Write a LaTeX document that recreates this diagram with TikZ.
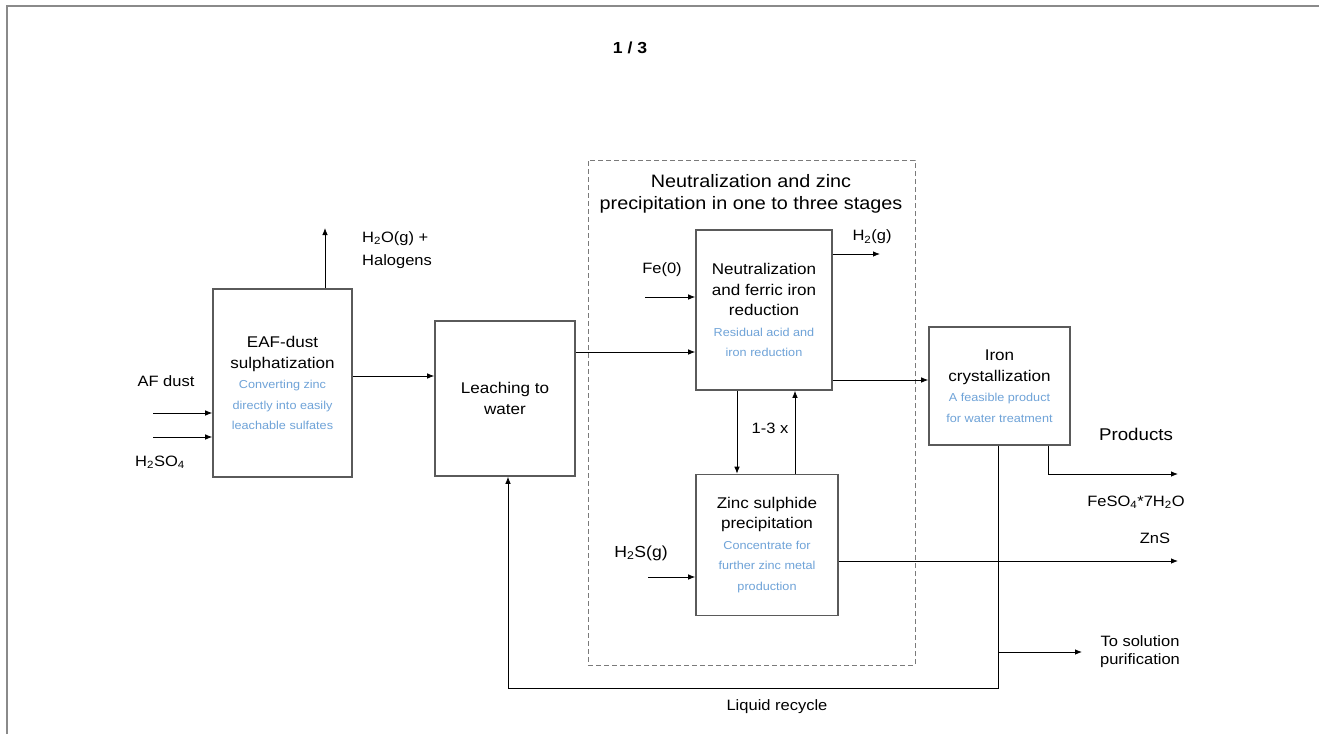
\documentclass[tikz,border=0pt]{standalone}
\usepackage{fontspec}
\setmainfont{Liberation Sans}[FakeStretch=1.1]
\usetikzlibrary{arrows.meta}
\definecolor{boxgray}{HTML}{5A5A5A}
\definecolor{framegray}{HTML}{8A8A8A}
\definecolor{dashgray}{HTML}{7A7A7A}
\definecolor{noteblue}{HTML}{6FA3D8}
\newcommand{\notefont}{\color{noteblue}\fontsize{11.5}{15.5}\selectfont}
\begin{document}
\begin{tikzpicture}[x=1pt,y=-1pt,
  procbox/.style={draw=boxgray, line width=1.6pt, fill=white, inner sep=0pt,
    align=center, font=\fontsize{15.5}{20.5}\selectfont},
  arr/.style={draw=black, line width=0.8pt, -{Latex[length=7pt,width=5.5pt]}},
  lbl/.style={inner sep=0pt, font=\fontsize{15}{18}\selectfont, align=center},
  dashbox/.style={draw=dashgray, line width=0.8pt, dash pattern=on 5pt off 3pt, inner sep=0pt}
]
\useasboundingbox (0,0) rectangle (1319,734);
% outer frame
\draw[framegray, line width=2pt] (7,734) -- (7,6) -- (1319,6);
\node[inner sep=0pt, font=\fontsize{16}{18}\selectfont\bfseries] (page) at (630,48) {1 / 3};

% dashed stage region
\node[dashbox, minimum width=327pt, minimum height=505pt] (stages) at (751.5,412.5) {};
\node[lbl, font=\fontsize{18}{22}\selectfont] (stagetitle) at (751,194) {Neutralization and zinc\\precipitation in one to three stages};

% process boxes
\node[procbox, minimum width=139pt, minimum height=188pt] (eaf) at (282.5,383)
  {EAF-dust\\sulphatization\\{\notefont Converting zinc}\\{\notefont directly into easily}\\{\notefont leachable sulfates}};
\node[procbox, minimum width=140pt, minimum height=155pt] (leach) at (505,398.5)
  {Leaching to\\water};
\node[procbox, minimum width=136pt, minimum height=160pt] (neut) at (764,310)
  {Neutralization\\and ferric iron\\reduction\\{\notefont Residual acid and}\\{\notefont iron reduction}};
\node[procbox, minimum width=142pt, minimum height=141pt] (zinc) at (767,545)
  {Zinc sulphide\\precipitation\\{\notefont Concentrate for}\\{\notefont further zinc metal}\\{\notefont production}};
\node[procbox, minimum width=141pt, minimum height=118pt] (iron) at (999.5,386)
  {Iron\\crystallization\\{\notefont A feasible product}\\{\notefont for water treatment}};

% free ends
\coordinate (dustin) at (153,413);
\coordinate (acidin) at (153,437);
\coordinate (gasout) at (325,228);
\coordinate (fein) at (645,297);
\coordinate (h2out) at (880,254);
\coordinate (h2sin) at (648,577);
\coordinate (znsout) at (1178,561);
\coordinate (feso4out) at (1178,474);
\coordinate (recycbend) at (998,688);
\coordinate (branch) at (998,652);
\coordinate (purout) at (1082,652);

% connectors
\draw[arr] (dustin) -- (eaf.west |- dustin);
\draw[arr] (acidin) -- (eaf.west |- acidin);
\draw[arr] (eaf.north -| gasout) -- (gasout);
\draw[arr] (eaf.east |- 0,376) -- (leach.west |- 0,376);
\draw[arr] (leach.east |- 0,352) -- (neut.west |- 0,352);
\draw[arr] (fein) -- (neut.west |- fein);
\draw[arr] (neut.east |- h2out) -- (h2out);
\draw[arr] (neut.east |- 0,380) -- (iron.west |- 0,380);
\draw[arr] (neut.south -| 737,0) -- (zinc.north -| 737,0);
\draw[arr] (zinc.north -| 795,0) -- (neut.south -| 795,0);
\draw[arr] (h2sin) -- (zinc.west |- h2sin);
\draw[arr] (zinc.east |- znsout) -- (znsout);
\draw[arr] (iron.south -| 1048,0) |- (feso4out);
\draw[arr] (iron.south -| recycbend) -- (recycbend) -| (leach.south -| 508,0);
\draw[arr] (branch) -- (purout);

% labels
\node[lbl] (dustlbl) at (166,381) {AF dust};
\node[lbl] (acidlbl) at (160,462) {H\textsubscript{2}SO\textsubscript{4}};
\node[lbl, anchor=west, align=left, font=\fontsize{15}{23}\selectfont] (gaslbl) at (362,250) {H\textsubscript{2}O(g) +\\Halogens};
\node[lbl] (felbl) at (662,270) {Fe(0)};
\node[lbl] (h2lbl) at (872,237) {H\textsubscript{2}(g)};
\node[lbl] (looplbl) at (770,428) {1-3 x};
\node[lbl, font=\fontsize{16}{18}\selectfont] (h2slbl) at (641,553) {H\textsubscript{2}S(g)};
\node[lbl, font=\fontsize{17}{19}\selectfont] (prodlbl) at (1136,434) {Products};
\node[lbl] (feso4lbl) at (1136,502) {FeSO\textsubscript{4}*7H\textsubscript{2}O};
\node[lbl] (znslbl) at (1155,538) {ZnS};
\node[lbl] (purlbl) at (1140,652) {To solution\\purification};
\node[lbl] (recyclbl) at (777,707) {Liquid recycle};
\end{tikzpicture}
\end{document}
